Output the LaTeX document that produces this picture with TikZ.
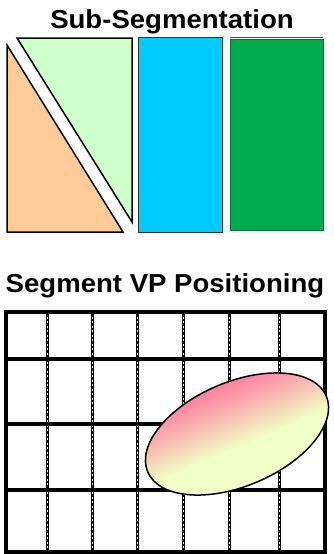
\documentclass[tikz,border=0pt]{standalone}
\usepackage{fontspec}
\setmainfont{Liberation Sans}
\usepackage{xcolor}
\usetikzlibrary{positioning}
\definecolor{Peach}{HTML}{FFCC99}
\definecolor{Mint}{HTML}{CCFFCC}
\definecolor{Sky}{HTML}{00CCFF}
\definecolor{Leaf}{HTML}{00AA4E}
\definecolor{Rose}{HTML}{FF5595}
\definecolor{Lime}{HTML}{F2FFC6}
\definecolor{Cream}{HTML}{FFFFF0}
\pgfdeclareverticalshading{segshade}{100bp}{color(0bp)=(Cream); color(18bp)=(Lime); color(44bp)=(Lime); color(64bp)=(Rose!50!Lime); color(86bp)=(Rose); color(100bp)=(Rose)}

\begin{document}
\begin{tikzpicture}[x=1pt,y=-1pt,
    ttl/.style={font=\fontsize{26}{30}\selectfont\bfseries,inner sep=0pt,anchor=base,xscale=1.06,transform shape},
    seg/.style={draw=black,line width=1.5pt,line join=miter},
    thk/.style={line width=4pt,draw=black},
    dsh/.style={line width=3pt,draw=black}]
    \useasboundingbox (0,0) rectangle (333,554);
    % top: sub-segmentation
    \node[ttl] (subttl) at (172,28) {Sub-Segmentation};
    \draw[seg,fill=Peach] (7,45) -- (7,232) -- (123,232) -- cycle;
    \draw[seg,fill=Mint] (17,38) -- (132,38) -- (132,222) -- cycle;
    \draw[draw=black!80,line width=1pt,fill=Sky] (138.5,37.5) rectangle (222,232);
    \draw[draw=black!70,line width=0.8pt] (230,37) -- (323,37);
    \draw[draw=Leaf!70!black,line width=0.8pt,fill=Leaf] (230.5,39) rectangle (323,230);
    % bottom: VP positioning grid
    \node[ttl] (vpttl) at (165,292) {Segment VP Positioning};
    \foreach \xx in {47,92,137,183,229,279} {
      \draw[dsh] (\xx,312) -- (\xx,552);
      \draw[white,line width=0.9pt,dash pattern=on 2pt off 2.5pt] (\xx,312) -- (\xx,552);
    }
    \foreach \yy in {359,424,490} \draw[thk] (6,\yy) -- (325,\yy);
    \draw[thk] (6,312) rectangle (325,552);
    % segment ellipse
    \begin{scope}[transform canvas={rotate around={23:(237,434)}}]
      \clip (237,434) ellipse [x radius=97,y radius=52];
      \shade[shading=segshade] (138,382) rectangle (336,486);
    \end{scope}
    \draw[line width=1.5pt,rotate around={23:(237,434)}] (237,434) ellipse [x radius=97,y radius=52];
\end{tikzpicture}
\end{document}
